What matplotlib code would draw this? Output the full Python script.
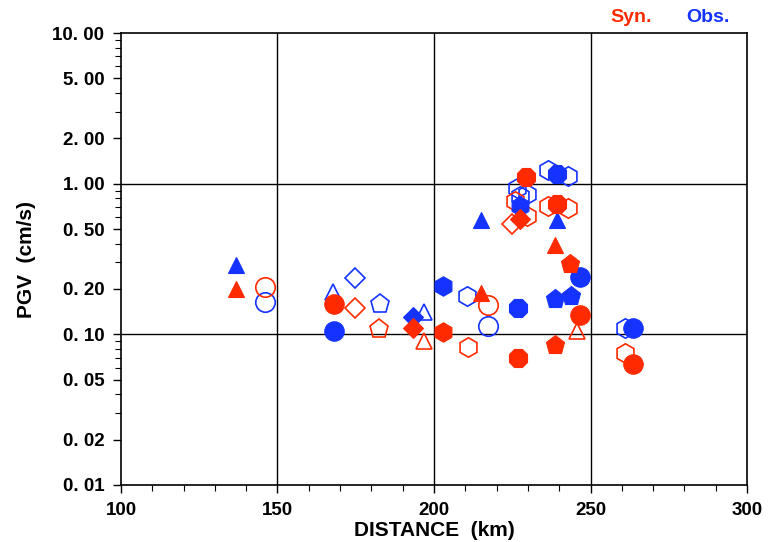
import matplotlib
matplotlib.use("Agg")
import matplotlib.pyplot as plt
from matplotlib.ticker import FixedLocator, NullFormatter

# observed PGV (blue)
obs_dist = [136.7, 146.0, 167.7, 168.0, 174.8, 182.7, 193.3, 196.8, 202.9, 210.5,
            215.0, 217.3, 226.8, 226.5, 227.5, 229.8, 227.5, 236.4, 239.3, 242.8,
            239.3, 238.7, 243.8, 246.6, 261.0, 263.6]
obs_pgv = [0.29, 0.163, 0.19, 0.106, 0.235, 0.158, 0.13, 0.14, 0.21, 0.18,
           0.57, 0.113, 0.149, 0.94, 0.83, 0.85, 0.715, 1.24, 1.16, 1.13,
           0.57, 0.171, 0.181, 0.239, 0.111, 0.11]
obs_sym = ['^', 'o', '^', 'o', 'D', 'p', 'D', '^', 'h', 'h',
           '^', 'o', '8', 'h', 'h', 'h', 'h', 'h', '8', 'h',
           '^', 'p', 'p', 'o', 'h', 'o']
obs_fill = [1, 0, 0, 1, 0, 0, 1, 0, 1, 0,
            1, 0, 1, 0, 0, 0, 1, 0, 1, 0,
            1, 1, 1, 1, 0, 1]

# synthetic PGV (red)
syn_dist = [136.7, 146.0, 168.0, 174.8, 182.4, 193.3, 196.8, 202.9, 210.9, 215.0,
            217.3, 226.8, 229.4, 225.9, 229.7, 224.9, 227.5, 236.4, 239.3, 242.8,
            238.7, 243.5, 238.7, 246.6, 245.7, 261.0, 263.6]
syn_pgv = [0.20, 0.205, 0.158, 0.149, 0.108, 0.111, 0.091, 0.103, 0.082, 0.187,
           0.156, 0.070, 1.11, 0.77, 0.61, 0.54, 0.586, 0.715, 0.737, 0.694,
           0.389, 0.295, 0.085, 0.134, 0.106, 0.075, 0.064]
syn_sym = ['^', 'o', 'o', 'D', 'p', 'D', '^', 'h', 'h', '^',
           'o', '8', '8', 'h', 'h', 'D', 'D', 'h', '8', 'h',
           '^', 'p', 'p', 'o', '^', 'h', 'o']
syn_fill = [1, 0, 1, 0, 0, 1, 0, 1, 0, 1,
            0, 1, 1, 0, 0, 0, 1, 0, 1, 0,
            1, 1, 1, 1, 0, 0, 1]

y_ticks = [0.01, 0.02, 0.05, 0.1, 0.2, 0.5, 1, 2, 5, 10]
y_labels = ['0. 01', '0. 02', '0. 05', '0. 10', '0. 20', '0. 50',
            '1. 00', '2. 00', '5. 00', '10. 00']

RED = '#ff2a00'
BLUE = '#1433ff'
sizes = {'o': 14, '^': 12, 'D': 10, 'p': 14, 'h': 14, '8': 14}

fig = plt.figure(figsize=(7.77, 5.42), dpi=100)
ax = fig.add_axes([0.1557, 0.1052, 0.8057, 0.8338])


def draw(dist, pgv, sym, fill, color):
    # open symbols first so the filled ones sit on top
    for want in (0, 1):
        for x, y, m, f in zip(dist, pgv, sym, fill):
            if f != want:
                continue
            if f:
                ax.plot(x, y, m, ms=sizes[m], color=color, mec=color, mew=0.8, zorder=4)
            else:
                ax.plot(x, y, m, ms=sizes[m], mfc='none', mec=color, mew=1.2, zorder=3)


draw(obs_dist, obs_pgv, obs_sym, obs_fill, BLUE)
draw(syn_dist, syn_pgv, syn_sym, syn_fill, RED)

ax.set_yscale('log')
ax.set_xlim(100, 300)
ax.set_ylim(0.01, 10)

for gx in (150, 200, 250):
    ax.axvline(gx, color='black', lw=1.0, zorder=1)
for gy in (0.1, 1):
    ax.axhline(gy, color='black', lw=1.0, zorder=1)

tick_font = dict(family=['Liberation Sans', 'DejaVu Sans'], weight='bold', size=13.5)
ax.set_xticks([100, 150, 200, 250, 300])
ax.set_xticklabels(['100', '150', '200', '250', '300'], fontdict=tick_font)
ax.xaxis.set_minor_locator(FixedLocator(range(100, 301, 10)))
ax.yaxis.set_major_locator(FixedLocator(y_ticks))
ax.set_yticklabels(y_labels, fontdict=tick_font)
minor_y = [k * 10.0 ** e for e in (-2, -1, 0) for k in (3, 4, 6, 7, 8, 9)]
ax.yaxis.set_minor_locator(FixedLocator(minor_y))
ax.yaxis.set_minor_formatter(NullFormatter())
ax.tick_params(which='major', direction='out', length=6, width=1, pad=6)
ax.tick_params(which='minor', direction='out', length=4, width=0.8)
for s in ax.spines.values():
    s.set_linewidth(1.2)

label_font = dict(family=['Liberation Sans Narrow', 'Liberation Sans', 'DejaVu Sans'],
                  weight='bold', size=15)
ax.set_xlabel('DISTANCE  (km)', fontdict=label_font, labelpad=2)
ax.set_ylabel('PGV  (cm/s)', fontdict=label_font, labelpad=12)

fig.text(0.812, 0.967, 'Syn.', color=RED, ha='center', va='center',
         family=['Liberation Sans', 'DejaVu Sans'], weight='bold', size=14)
fig.text(0.911, 0.967, 'Obs.', color=BLUE, ha='center', va='center',
         family=['Liberation Sans', 'DejaVu Sans'], weight='bold', size=14)

fig.savefig('out.png', dpi=100)
